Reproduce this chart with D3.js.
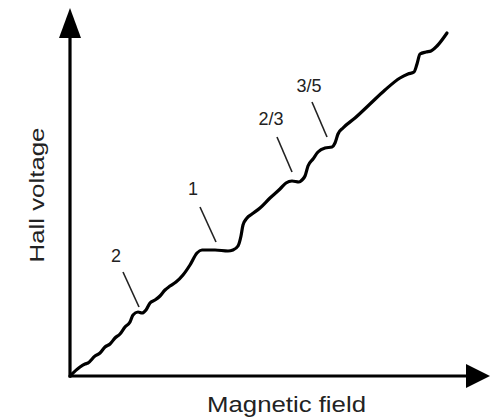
<!DOCTYPE html>
<html>
<head>
<meta charset="utf-8">
<script src="https://cdn.jsdelivr.net/npm/d3@7"></script>
<style>
  html, body { margin: 0; padding: 0; background: #fff; }
  svg { display: block; }
</style>
</head>
<body>
<div id="chart"></div>
<script>
// Magnetic field (arbitrary units) and Hall voltage (arbitrary units)
const field = [0, 1.0, 1.5, 1.8, 2.5, 3.0, 3.5, 4.0, 4.5, 5.0, 5.5, 6.0, 6.3, 6.8, 7.2, 7.6, 8.0, 8.5, 9.0, 9.5,
  10.0, 10.6, 11.3, 12.0, 12.7, 13.2, 14.5, 15.8, 16.3, 16.8, 17.1, 17.3, 17.7, 18.2, 19.0, 20.0, 21.0, 21.6,
  22.2, 22.9, 23.2, 23.5, 23.8, 24.3, 24.8, 25.5, 26.2, 26.5, 26.8, 27.3, 28.5, 30.0, 31.5, 33.0, 33.8, 34.4,
  34.7, 35.0, 35.6, 36.1, 36.7, 37.7];
const hall = [0, 0.9, 1.2, 1.3, 2.0, 2.3, 2.9, 3.2, 3.8, 4.2, 4.9, 5.4, 6.1, 6.4, 6.3, 6.6, 7.3, 7.6, 8.0, 8.6,
  9.0, 9.4, 10.1, 11.1, 12.3, 12.6, 12.6, 12.5, 12.6, 13.0, 14.0, 15.1, 15.8, 16.2, 16.8, 17.8, 18.7, 19.3,
  19.5, 19.4, 19.6, 20.0, 21.0, 21.7, 22.4, 22.8, 22.9, 23.3, 24.2, 24.8, 25.8, 27.2, 28.6, 29.8, 30.2, 30.4,
  31.2, 32.2, 32.4, 32.5, 33.0, 34.3];

// Plateau annotations: label, label position, pointer line start / end
const labelText = ["2", "1", "2/3", "3/5"];
const labelX = [4.6, 12.3, 20.1, 23.9];
const labelY = [11.4, 18.1, 25.1, 28.4];
const pointerX1 = [5.3, 13.0, 20.7, 24.2];
const pointerY1 = [10.4, 16.9, 23.9, 27.4];
const pointerX2 = [6.9, 14.6, 22.2, 25.7];
const pointerY2 = [6.9, 13.4, 20.4, 23.9];

const xTitle = "Magnetic field";
const yTitle = "Hall voltage";

const W = 493, H = 419;
const xMax = 42.0, yMax = 36.8;

const svg = d3.select("#chart").append("svg")
  .attr("width", W).attr("height", H)
  .attr("viewBox", `0 0 ${W} ${H}`);

svg.append("rect").attr("width", W).attr("height", H).attr("fill", "#fff");

const x = d3.scaleLinear().domain([0, xMax]).range([70, 490]);
const y = d3.scaleLinear().domain([0, yMax]).range([376, 8]);

// Axes with arrowheads
const axisColor = "#000";
svg.append("line")
  .attr("x1", x(0)).attr("y1", y(0))
  .attr("x2", x(xMax) - 20).attr("y2", y(0))
  .attr("stroke", axisColor).attr("stroke-width", 3.2);
svg.append("line")
  .attr("x1", x(0)).attr("y1", y(0) + 1.5)
  .attr("x2", x(0)).attr("y2", y(yMax) + 26)
  .attr("stroke", axisColor).attr("stroke-width", 3.2);

// x arrowhead
svg.append("path")
  .attr("d", `M${x(xMax)},${y(0)} L${x(xMax) - 24},${y(0) - 12} L${x(xMax) - 24},${y(0) + 12} Z`)
  .attr("fill", axisColor);
// y arrowhead
svg.append("path")
  .attr("d", `M${x(0)},${y(yMax)} L${x(0) - 11},${y(yMax) + 30} L${x(0) + 11},${y(yMax) + 30} Z`)
  .attr("fill", axisColor);

// Hall voltage curve
const data = field.map((f, i) => ({ f, v: hall[i] }));
const line = d3.line()
  .x(d => x(d.f))
  .y(d => y(d.v))
  .curve(d3.curveMonotoneX);

svg.append("path")
  .datum(data)
  .attr("d", line)
  .attr("fill", "none")
  .attr("stroke", "#000")
  .attr("stroke-width", 3.2)
  .attr("stroke-linejoin", "round")
  .attr("stroke-linecap", "round");

// Pointer lines
svg.selectAll(".pointer")
  .data(labelText)
  .join("line")
  .attr("class", "pointer")
  .attr("x1", (d, i) => x(pointerX1[i]))
  .attr("y1", (d, i) => y(pointerY1[i]))
  .attr("x2", (d, i) => x(pointerX2[i]))
  .attr("y2", (d, i) => y(pointerY2[i]))
  .attr("stroke", "#222")
  .attr("stroke-width", 1.6);

// Labels
svg.selectAll(".lbl")
  .data(labelText)
  .join("text")
  .attr("class", "lbl")
  .attr("x", (d, i) => x(labelX[i]))
  .attr("y", (d, i) => y(labelY[i]))
  .attr("text-anchor", "middle")
  .attr("font-family", "Liberation Sans, Arial, sans-serif")
  .attr("font-size", 18)
  .attr("fill", "#222")
  .text(d => d);

// Axis titles
svg.append("text")
  .attr("x", 286.5).attr("y", 412)
  .attr("text-anchor", "middle")
  .attr("font-family", "Liberation Sans, Arial, sans-serif")
  .attr("font-size", 22)
  .attr("fill", "#222")
  .attr("textLength", 159)
  .attr("lengthAdjust", "spacingAndGlyphs")
  .text(xTitle);

svg.append("text")
  .attr("transform", "translate(44,195) rotate(-90)")
  .attr("text-anchor", "middle")
  .attr("font-family", "Liberation Sans, Arial, sans-serif")
  .attr("font-size", 20)
  .attr("fill", "#222")
  .attr("textLength", 135)
  .attr("lengthAdjust", "spacingAndGlyphs")
  .text(yTitle);
</script>
</body>
</html>
